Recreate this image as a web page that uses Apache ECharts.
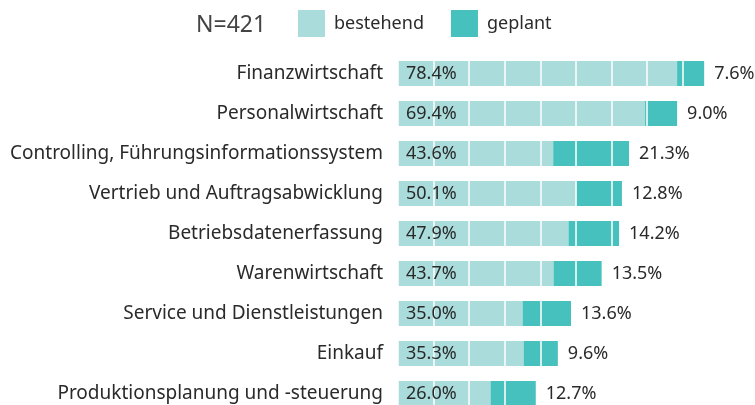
<!DOCTYPE html>
<html>
<head>
<meta charset="utf-8">
<script src="https://cdn.jsdelivr.net/npm/echarts@6/dist/echarts.min.js"></script>
<style>
  html, body { margin: 0; padding: 0; background: #fff; overflow: hidden; }
  /* unterste Zeile ist im Original angeschnitten */
  #chart { width: 755px; height: 415px; }
</style>
</head>
<body>
<div id="chart"></div>
<script>
const categories = [
  'Finanzwirtschaft',
  'Personalwirtschaft',
  'Controlling, Führungsinformationssystem',
  'Vertrieb und Auftragsabwicklung',
  'Betriebsdatenerfassung',
  'Warenwirtschaft',
  'Service und Dienstleistungen',
  'Einkauf',
  'Produktionsplanung und -steuerung'
]
const bestehend = [78.4, 69.4, 43.6, 50.1, 47.9, 43.7, 35.0, 35.3, 26.0]
const geplant = [7.6, 9.0, 21.3, 12.8, 14.2, 13.5, 13.6, 9.6, 12.7]

const fontFam = '"Noto Sans", sans-serif'
const textColor = '#2a2a2a'

const myChart = echarts.init(document.getElementById('chart'))

// Beschriftung über den weißen Gitterlinien
const labelStyle = {
  color: textColor,
  fontSize: 18,
  fontFamily: fontFam,
  formatter: p => p.value.toFixed(1) + '%'
}

const option = {
  animation: false,
  title: {
    text: 'N=421',
    left: 191,
    top: 9,
    textStyle: { color: '#444', fontSize: 23, fontWeight: 'normal', fontFamily: fontFam }
  },
  legend: {
    data: ['bestehend', 'geplant'],
    left: 293,
    top: 5,
    itemWidth: 27,
    itemHeight: 27,
    itemGap: 27,
    icon: 'rect',
    textStyle: { color: textColor, fontSize: 18, fontFamily: fontFam, padding: [0, 0, 0, 4] }
  },
  grid: {
    left: 398,
    top: 53.5,
    width: 356,
    height: 360,
    containLabel: false
  },
  xAxis: {
    type: 'value',
    min: 0,
    max: 100,
    interval: 10,
    z: 5,
    axisLabel: { show: false },
    axisLine: { show: false },
    axisTick: { show: false },
    splitLine: { show: true, lineStyle: { color: '#fff', width: 1.5 } }
  },
  yAxis: {
    type: 'category',
    data: categories,
    inverse: true,
    axisLine: { show: false },
    axisTick: { show: false },
    axisLabel: { color: textColor, fontSize: 19, fontFamily: fontFam, margin: 15 }
  },
  series: [
    {
      name: 'bestehend',
      type: 'bar',
      stack: 'total',
      barWidth: 25,
      data: bestehend,
      itemStyle: { color: '#aadcdb' }
    },
    {
      name: 'geplant',
      type: 'bar',
      stack: 'total',
      barWidth: 25,
      data: geplant,
      itemStyle: { color: '#47c1bd' }
    },
    {
      name: 'label-bestehend',
      type: 'bar',
      stack: 'labels',
      barWidth: 25,
      barGap: '-100%',
      z: 10,
      silent: true,
      data: bestehend,
      itemStyle: { color: 'transparent' },
      label: Object.assign({ show: true, position: 'insideLeft', distance: 8 }, labelStyle)
    },
    {
      name: 'label-geplant',
      type: 'bar',
      stack: 'labels',
      barWidth: 25,
      barGap: '-100%',
      z: 10,
      silent: true,
      data: geplant,
      itemStyle: { color: 'transparent' },
      label: Object.assign({ show: true, position: 'right', distance: 10 }, labelStyle)
    }
  ]
}

myChart.setOption(option)
</script>
</body>
</html>
